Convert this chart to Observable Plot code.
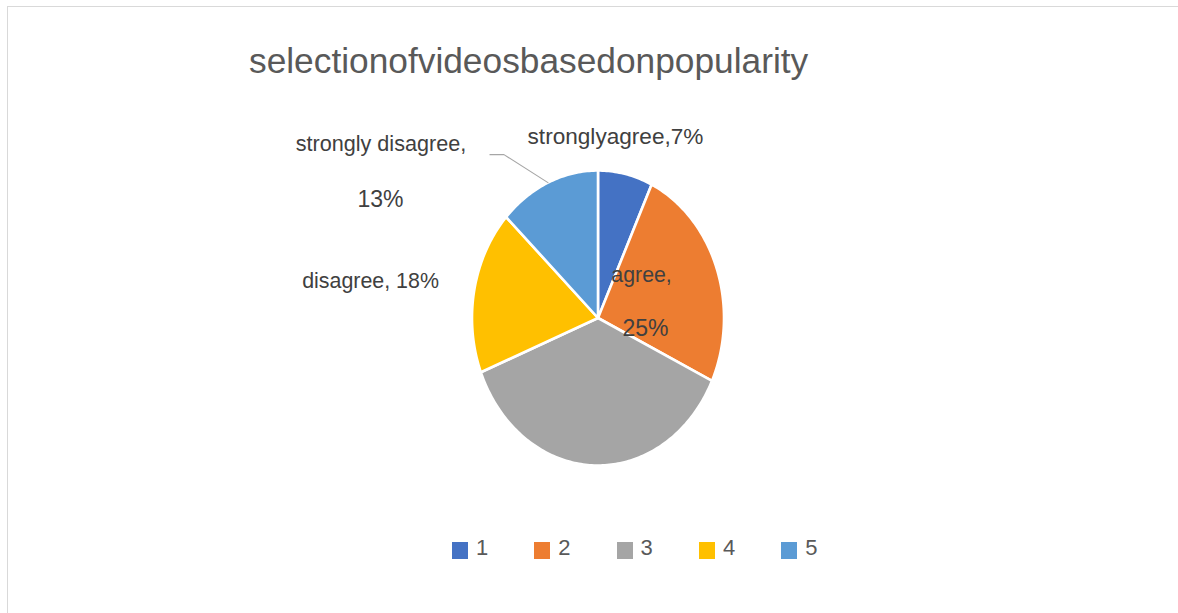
<!DOCTYPE html>
<html>
<head>
<meta charset="utf-8">
<script src="https://cdn.jsdelivr.net/npm/d3@7"></script>
<script src="https://cdn.jsdelivr.net/npm/@observablehq/plot@0.6"></script>
<style>
  body { margin: 0; background: #fff; overflow: hidden; font-family: "Liberation Sans", Arial, sans-serif; }
  #wrap { position: relative; width: 1178px; height: 613px; overflow: hidden; }
  #frame { position: absolute; left: 7px; top: 6px; width: 1300px; height: 700px;
           border-left: 1.5px solid #d9d9d9; border-top: 1.5px solid #d9d9d9; z-index: 2; pointer-events: none; }
  #title { position: absolute; left: 249px; top: 43px; font-size: 35.3px; line-height: 35px; color: #595959; white-space: nowrap; }
  #chart { position: absolute; left: 0; top: 100px; }
  #legend { position: absolute; left: 452px; top: 537px; display: flex; }
  .item { display: flex; align-items: flex-start; width: 82.3px; }
  .sw { width: 16px; height: 17px; margin-top: 5px; }
  .lab { margin-left: 8px; font-size: 22px; line-height: 22px; color: #595959; }
</style>
</head>
<body>
<div id="wrap">
  <div id="frame"></div>
  <div id="title"></div>
  <div id="chart"></div>
  <div id="legend"></div>
</div>
<script>
// ---- data ----
const titleText = "selectionofvideosbasedonpopularity";
const categories = ["strongly agree", "agree", "neutral", "disagree", "strongly disagree"];
const legendNames = ["1", "2", "3", "4", "5"];
const values = [7, 25, 37, 18, 13];
const labelTexts = [["stronglyagree,7%"], ["agree,", "25%"], [], ["disagree, 18%"], ["strongly disagree,", "13%"]];

// ---- styles / layout ----
const palette = ["#4472C4", "#ED7D31", "#A5A5A5", "#FFC000", "#5B9BD5"];
const CX = 597.5, CY = 217.5, RX = 126, RY = 147.5;
// pixel offsets of each label line from its slice's mid-angle rim point
const labelLayout = [
  [{dx: -10, dy: -37.6, fs: 22.6}],
  [{dx: -75, dy: 7.2, fs: 21.3}, {dx: -71, dy: 60.5, fs: 23}],
  [],
  [{dx: -103.7, dy: -9.6, fs: 21.4}],
  [{dx: -167, dy: -38.1, fs: 21.6}, {dx: -167.5, dy: 16.9, fs: 23}]
];
const leaderSlice = 4;
const leaderBends = [{dx: 0, dy: 0}, {dx: -44, dy: -28}, {dx: -58, dy: -28}];

document.getElementById("title").textContent = titleText;

// ---- geometry from values ----
const total = d3.sum(values);
let cum = 0;
const slices = values.map((v, i) => {
  const a0 = cum / total * 2 * Math.PI; cum += v;
  const a1 = cum / total * 2 * Math.PI;
  return {i, cat: categories[i], a0, a1, mid: (a0 + a1) / 2};
});
const pts = [];
slices.forEach(s => {
  pts.push({cat: s.cat, x: 0, y: 0});
  const n = Math.max(2, Math.ceil((s.a1 - s.a0) / (Math.PI / 180)));
  for (let k = 0; k <= n; k++) {
    const a = s.a0 + (s.a1 - s.a0) * k / n;
    pts.push({cat: s.cat, x: Math.sin(a), y: Math.cos(a)});
  }
});
const rim = s => ({x: Math.sin(s.mid), y: Math.cos(s.mid)});
const labelRows = [];
slices.forEach(s => {
  const r = rim(s);
  labelTexts[s.i].forEach((t, j) => {
    const L = labelLayout[s.i][j];
    labelRows.push({text: t, x: r.x + L.dx / RX, y: r.y - L.dy / RY, fs: L.fs});
  });
});
const lr = rim(slices[leaderSlice]);
const leader = leaderBends.map(b => ({x: lr.x + b.dx / RX, y: lr.y - b.dy / RY}));

const chart = Plot.plot({
  width: 1178, height: 420, margin: 0,
  x: {domain: [-1, 1], range: [CX - RX, CX + RX], axis: null},
  y: {domain: [-1, 1], range: [CY + RY, CY - RY], axis: null},
  color: {domain: categories, range: palette},
  style: {background: "transparent", overflow: "visible", fontFamily: "Liberation Sans, Arial, sans-serif"},
  marks: [
    Plot.line(pts, {x: "x", y: "y", z: "cat", fill: "cat", stroke: "white", strokeWidth: 2.6,
                    strokeLinejoin: "round", curve: "linear-closed"}),
    Plot.line(leader, {x: "x", y: "y", stroke: "#a6a6a6", strokeWidth: 1.1}),
    Plot.text(labelRows, {x: "x", y: "y", text: "text", fontSize: "fs", fill: "#404040",
                          textAnchor: "middle", lineAnchor: "middle"})
  ]
});
document.getElementById("chart").appendChild(chart);

const legend = document.getElementById("legend");
legendNames.forEach((name, i) => {
  const item = document.createElement("div");
  item.className = "item";
  const sw = document.createElement("div");
  sw.className = "sw"; sw.style.background = palette[i];
  const lab = document.createElement("div");
  lab.className = "lab"; lab.textContent = name;
  item.appendChild(sw); item.appendChild(lab);
  legend.appendChild(item);
});
</script>
</body>
</html>
